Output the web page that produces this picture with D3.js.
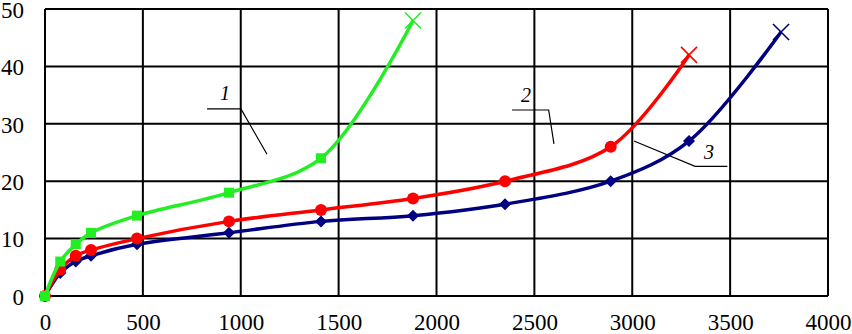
<!DOCTYPE html>
<html>
<head>
<meta charset="utf-8">
<script src="https://cdn.jsdelivr.net/npm/d3@7"></script>
<style>
  html, body { margin: 0; padding: 0; background: #fff; }
  svg { display: block; }
</style>
</head>
<body>
<svg id="chart" width="852" height="334"></svg>
<script>
// ---- data ----
const xTicks = [0, 500, 1000, 1500, 2000, 2500, 3000, 3500, 4000];
const yTicks = [0, 10, 20, 30, 40, 50];

const x1 = [0, 78, 157, 235, 470, 940, 1410, 1880];
const y1 = [0, 6, 9, 11, 14, 18, 24, 48];

const x2 = [0, 78, 157, 235, 470, 940, 1410, 1880, 2350, 2890, 3290];
const y2 = [0, 4.6, 7, 8, 10, 13, 15, 17, 20, 26, 42];

const x3 = [0, 78, 157, 235, 470, 940, 1410, 1880, 2350, 2890, 3290, 3760];
const y3 = [0, 4, 6, 7, 9, 11, 13, 14, 16, 20, 27, 46];

const seriesNames = ["1", "2", "3"];
// annotation anchors in data units: label, leader elbow start, elbow, tip
const annLabelX = [920, 2457, 3392];
const annLabelY = [34.1, 33.8, 23.9];
const annLineX = [[828, 1001, 1134], [2386, 2573, 2600], [3486, 3321, 3009]];
const annLineY = [[32.6, 32.6, 24.7], [32.4, 32.4, 26.5], [22.6, 22.6, 27.0]];

// ---- layout ----
const FONT = "'Liberation Serif', 'Times New Roman', 'DejaVu Serif', serif";
const svg = d3.select("#chart");
const mLeft = 45, mRight = 828, mTop = 9, mBottom = 296;
const x = d3.scaleLinear().domain([0, 4000]).range([mLeft, mRight]);
const y = d3.scaleLinear().domain([0, 50]).range([mBottom, mTop]);

// grid
svg.append("g").selectAll("line").data(xTicks).join("line")
  .attr("x1", d => x(d)).attr("x2", d => x(d))
  .attr("y1", y(0)).attr("y2", y(50))
  .attr("stroke", "#000").attr("stroke-width", 2);
svg.append("g").selectAll("line").data(yTicks).join("line")
  .attr("x1", x(0)).attr("x2", x(4000))
  .attr("y1", d => y(d)).attr("y2", d => y(d))
  .attr("stroke", "#000").attr("stroke-width", 2);

// axes (labels only)
const xAxis = svg.append("g").attr("transform", `translate(0,${mBottom})`)
  .call(d3.axisBottom(x).tickValues(xTicks).tickSize(0).tickPadding(18).tickFormat(d3.format("d")));
const yAxis = svg.append("g").attr("transform", `translate(${mLeft},0)`)
  .call(d3.axisLeft(y).tickValues(yTicks).tickSize(0).tickPadding(21).tickFormat(d3.format("d")));
[xAxis, yAxis].forEach(g => {
  g.select(".domain").remove();
  g.selectAll("text")
    .style("font-family", FONT).style("font-size", "23px").style("fill", "#000");
});
yAxis.selectAll("text").attr("dy", "0.36em");

// annotations
for (let i = 0; i < 3; i++) {
  const pts = annLineX[i].map((v, j) => [x(v), y(annLineY[i][j])]);
  svg.append("path").attr("d", d3.line()(pts))
    .attr("fill", "none").attr("stroke", "#000").attr("stroke-width", 1.2);
  svg.append("text").attr("x", x(annLabelX[i])).attr("y", y(annLabelY[i]))
    .attr("text-anchor", "middle")
    .style("font-family", FONT).style("font-size", "20px").style("font-style", "italic")
    .text(seriesNames[i]);
}

// series
const line = d3.line().x(d => x(d[0])).y(d => y(d[1])).curve(d3.curveCatmullRom.alpha(0.5));
const series = [
  { xs: x3, ys: y3, color: "#000080", marker: "diamond" },
  { xs: x2, ys: y2, color: "#ff0000", marker: "circle" },
  { xs: x1, ys: y1, color: "#22ee22", marker: "square" }
];
series.forEach(s => {
  const pts = s.xs.map((v, i) => [v, s.ys[i]]);
  const g = svg.append("g");
  g.append("path").attr("d", line(pts)).attr("fill", "none")
    .attr("stroke", s.color).attr("stroke-width", 3.5);
  const body = pts.slice(0, -1);
  const last = pts[pts.length - 1];
  if (s.marker === "circle") {
    g.selectAll("circle").data(body).join("circle")
      .attr("cx", d => x(d[0])).attr("cy", d => y(d[1])).attr("r", 6).attr("fill", s.color);
  } else if (s.marker === "square") {
    g.selectAll("rect").data(body).join("rect")
      .attr("x", d => x(d[0]) - 5).attr("y", d => y(d[1]) - 5)
      .attr("width", 10).attr("height", 10).attr("fill", s.color);
  } else {
    g.selectAll("path.m").data(body).join("path").attr("class", "m")
      .attr("d", d => { const cx = x(d[0]), cy = y(d[1]), r = 6;
        return `M${cx},${cy - r}L${cx + r},${cy}L${cx},${cy + r}L${cx - r},${cy}Z`; })
      .attr("fill", s.color);
  }
  const cx = x(last[0]), cy = y(last[1]), r = 8;
  g.append("path").attr("d", `M${cx - r},${cy - r}L${cx + r},${cy + r}M${cx - r},${cy + r}L${cx + r},${cy - r}`)
    .attr("stroke", s.color).attr("stroke-width", 1.6).attr("fill", "none");
});
</script>
</body>
</html>
